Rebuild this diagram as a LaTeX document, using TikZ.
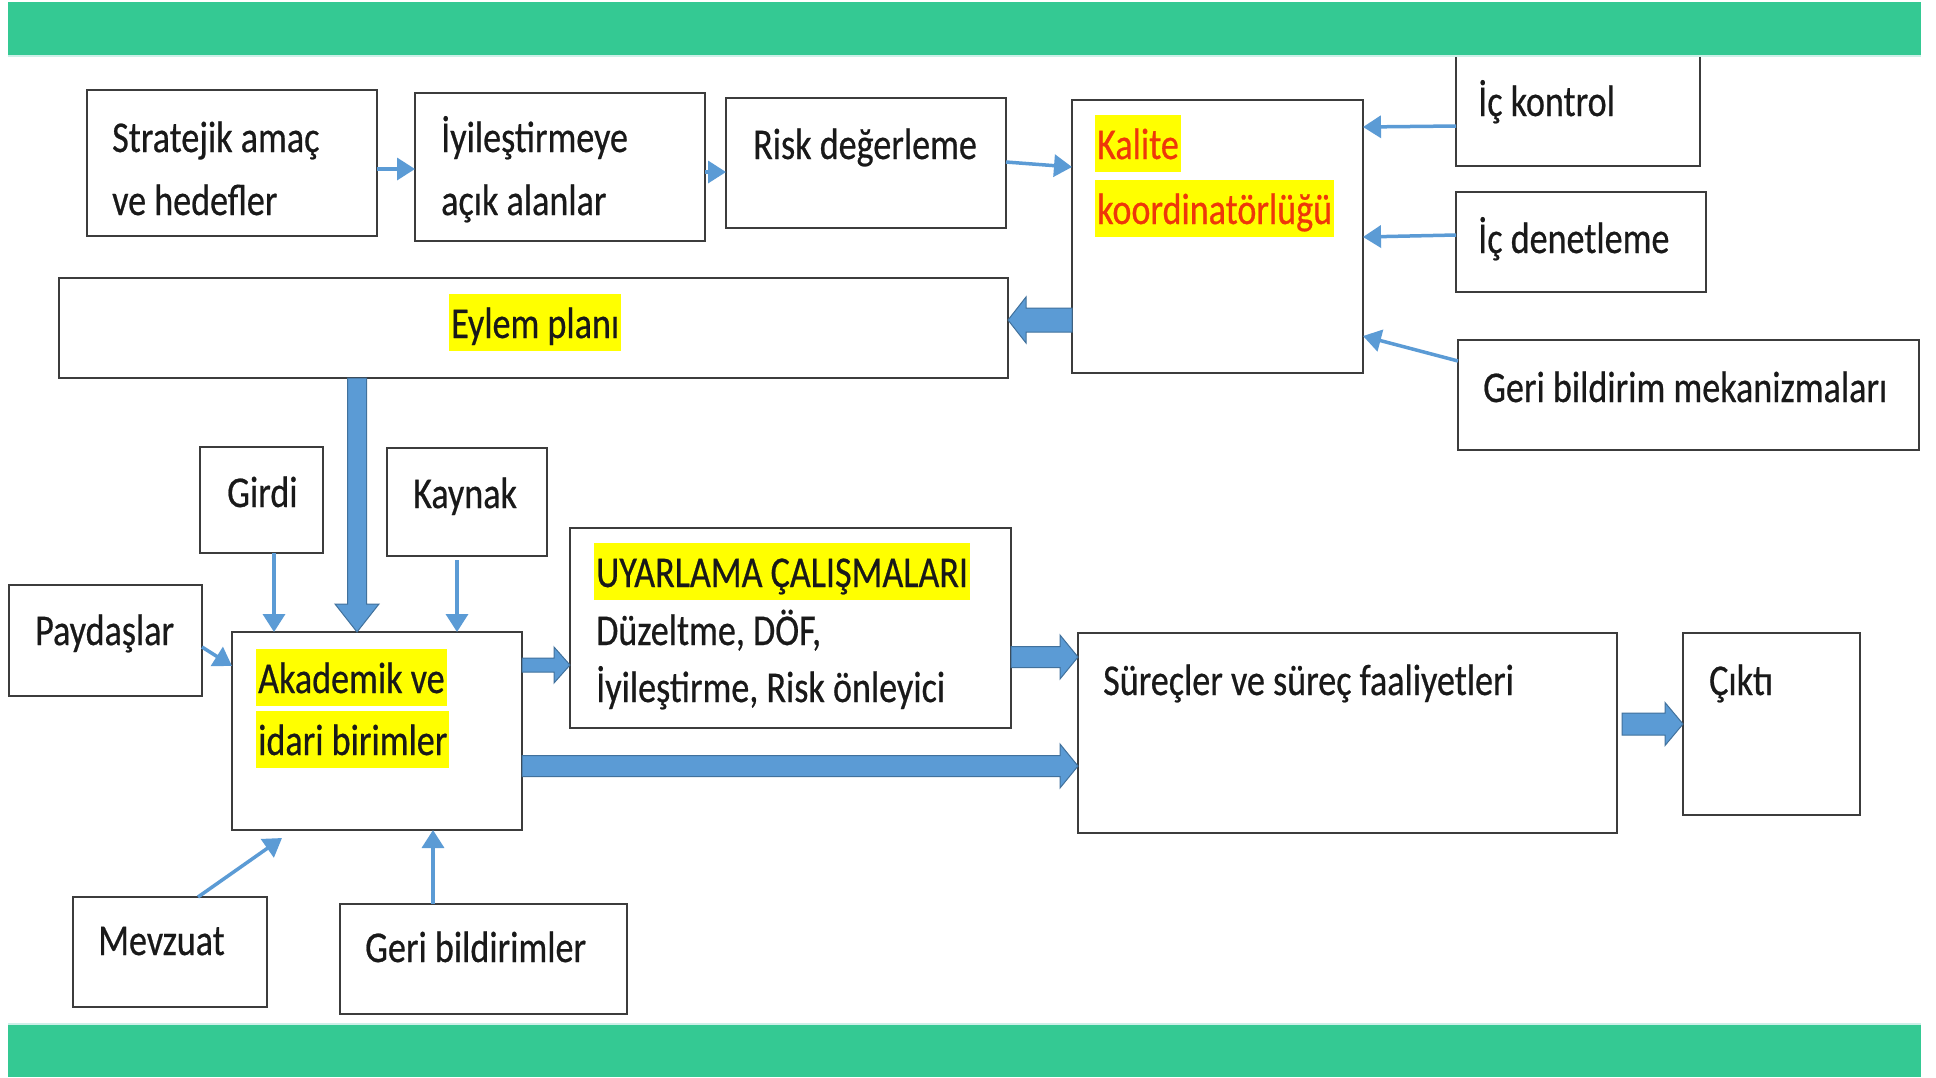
\documentclass[tikz,border=0pt]{standalone}
\usepackage{fontspec}
\setmainfont{Carlito}[FakeStretch=0.82, FakeBold=0.5]
\usetikzlibrary{arrows.meta,calc,fit}

\definecolor{barGreen}{RGB}{52,201,147}
\definecolor{barEdge}{RGB}{205,240,232}
\definecolor{arrowBlue}{RGB}{91,155,213}
\definecolor{arrowEdge}{RGB}{65,113,156}
\definecolor{boxLine}{RGB}{60,60,60}
\definecolor{ink}{RGB}{25,25,25}
\definecolor{hlYellow}{RGB}{255,255,0}
\definecolor{kalRed}{RGB}{238,55,10}

\tikzset{
  box/.style={draw=boxLine, line width=2.6pt, fill=white, inner sep=0pt, outer sep=0pt},
  lbl/.style={anchor=base west, inner sep=0pt, text=ink, font=\fontsize{44}{63}\selectfont},
  hl/.style={lbl, fill=hlYellow, text height=44pt, text depth=13pt, inner xsep=2pt, inner ysep=0pt},
  flow/.style={draw=arrowBlue, line width=3.5pt, -{Triangle[length=18pt,width=22pt]}},
}

% filled block arrow from #1 to #2: half shaft #3, half head #4, head length #5
\newcommand\blockarrow[5]{%
  \coordinate (ba-h) at ($(#2)!#5!(#1)$);
  \filldraw[fill=arrowBlue, draw=arrowEdge, line width=1pt, line join=miter]
    ($(#1)!#3!90:(#2)$) -- ($(ba-h)!#3!90:(#2)$) -- ($(ba-h)!#4!90:(#2)$) -- (#2)
    -- ($(ba-h)!#4!-90:(#2)$) -- ($(ba-h)!#3!-90:(#2)$) -- ($(#1)!#3!-90:(#2)$) -- cycle;
}

\begin{document}
\begin{tikzpicture}[x=1pt, y=-1pt]
\useasboundingbox (0,0) rectangle (1936,1077);
\fill[white] (0,0) rectangle (1936,1077);

% ---------- boxes ----------
\node[box, fit={(1456,40) (1700,166)}] (ick) {};
\node[box, fit={(87,90) (377,236)}] (strat) {};
\node[box, fit={(415,93) (705,241)}] (iyi) {};
\node[box, fit={(726,98) (1006,228)}] (risk) {};
\node[box, fit={(1072,100) (1363,373)}] (kal) {};
\node[box, fit={(1456,192) (1706,292)}] (icd) {};
\node[box, fit={(1458,340) (1919,450)}] (gbm) {};
\node[box, fit={(59,278) (1008,378)}] (eylem) {};
\node[box, fit={(200,447) (323,553)}] (girdi) {};
\node[box, fit={(387,448) (547,556)}] (kaynak) {};
\node[box, fit={(9,585) (202,696)}] (payd) {};
\node[box, fit={(232,632) (522,830)}] (akad) {};
\node[box, fit={(570,528) (1011,728)}] (uyar) {};
\node[box, fit={(1078,633) (1617,833)}] (surec) {};
\node[box, fit={(1683,633) (1860,815)}] (cikti) {};
\node[box, fit={(73,897) (267,1007)}] (mevz) {};
\node[box, fit={(340,904) (627,1014)}] (gbl) {};

% ---------- header and footer bands ----------
\fill[barGreen] (8,2) rectangle (1921,55);
\fill[barEdge] (8,55) rectangle (1921,57);
\fill[barGreen] (8,1025) rectangle (1921,1077);
\fill[barEdge] (8,1023) rectangle (1921,1025);

% ---------- texts ----------
\node[lbl] (strat-a) at (112,152) {Stratejik amaç};
\node[lbl] (strat-b) at (112,215) {ve hedefler};
\node[lbl] (iyi-a) at (441,152) {İyileştirmeye};
\node[lbl] (iyi-b) at (441,215) {açık alanlar};
\node[lbl] (risk-a) at (753,159) {Risk değerleme};
\node[hl, text=kalRed] (kal-a) at (1095,159) {Kalite};
\node[hl, text=kalRed] (kal-b) at (1095,224) {koordinatörlüğü};
\node[lbl] (ick-a) at (1478,116) {İç kontrol};
\node[lbl] (icd-a) at (1478,253) {İç denetleme};
\node[lbl] (gbm-a) at (1483,402) {Geri bildirim mekanizmaları};
\node[hl] (eylem-a) at (449,338) {Eylem planı};
\node[lbl] (girdi-a) at (227,507) {Girdi};
\node[lbl] (kaynak-a) at (413,508) {Kaynak};
\node[lbl] (payd-a) at (35,645) {Paydaşlar};
\node[hl] (akad-a) at (256,693) {Akademik ve};
\node[hl] (akad-b) at (256,755) {idari birimler};
\node[hl] (uyar-a) at (594,587) {UYARLAMA ÇALIŞMALARI};
\node[lbl] (uyar-b) at (596,645) {Düzeltme, DÖF,};
\node[lbl] (uyar-c) at (596,702) {İyileştirme, Risk önleyici};
\node[lbl] (surec-a) at (1103,695) {Süreçler ve süreç faaliyetleri};
\node[lbl] (cikti-a) at (1709,695) {Çıktı};
\node[lbl] (mevz-a) at (98,955) {Mevzuat};
\node[lbl] (gbl-a) at (365,962) {Geri bildirimler};

% ---------- thin connectors ----------
\draw[flow] (strat.east |- 0,169) -- (iyi.west |- 0,169);
\draw[flow] (iyi.east |- 0,172) -- (risk.west |- 0,172);
\draw[flow] (risk.east |- 0,162) -- (kal.west |- 0,167);
\draw[flow] (ick.west |- 0,126) -- (kal.east |- 0,127);
\draw[flow] (icd.west |- 0,235) -- (kal.east |- 0,237);
\draw[flow] (gbm.west |- 0,361) -- (kal.east |- 0,336);
\draw[flow] (girdi.south -| 274,0) -- (akad.north -| 274,0);
\coordinate (kaynak-out) at (457,560);
\draw[flow] (kaynak-out) -- (akad.north -| kaynak-out);
\draw[flow] (payd.east |- 0,647) -- (akad.west |- 0,666);
\coordinate (mevz-in) at (282,838);
\draw[flow] (mevz.north -| 198,0) -- (mevz-in);
\draw[flow] (gbl.north -| 433,0) -- (akad.south -| 433,0);

% ---------- block arrows ----------
\coordinate (b1s) at (kal.west |- 0,320);
\coordinate (b1e) at (eylem.east |- 0,320);
\blockarrow{b1s}{b1e}{12pt}{23pt}{18pt}
\coordinate (b2s) at (eylem.south -| 357,0);
\coordinate (b2e) at (akad.north -| 357,0);
\blockarrow{b2s}{b2e}{9.5pt}{22pt}{28pt}
\coordinate (b3s) at (akad.east |- 0,665);
\coordinate (b3e) at (uyar.west |- 0,665);
\blockarrow{b3s}{b3e}{7pt}{18pt}{16pt}
\coordinate (b4s) at (uyar.east |- 0,657);
\coordinate (b4e) at (surec.west |- 0,657);
\blockarrow{b4s}{b4e}{10.5pt}{22pt}{18pt}
\coordinate (b5s) at (akad.east |- 0,766);
\coordinate (b5e) at (surec.west |- 0,766);
\blockarrow{b5s}{b5e}{10.5pt}{22pt}{18pt}
\coordinate (b6s) at ([xshift=5pt]surec.east |- 0,724);
\coordinate (b6e) at (cikti.west |- 0,724);
\blockarrow{b6s}{b6e}{11pt}{21.5pt}{18pt}
\end{tikzpicture}
\end{document}
